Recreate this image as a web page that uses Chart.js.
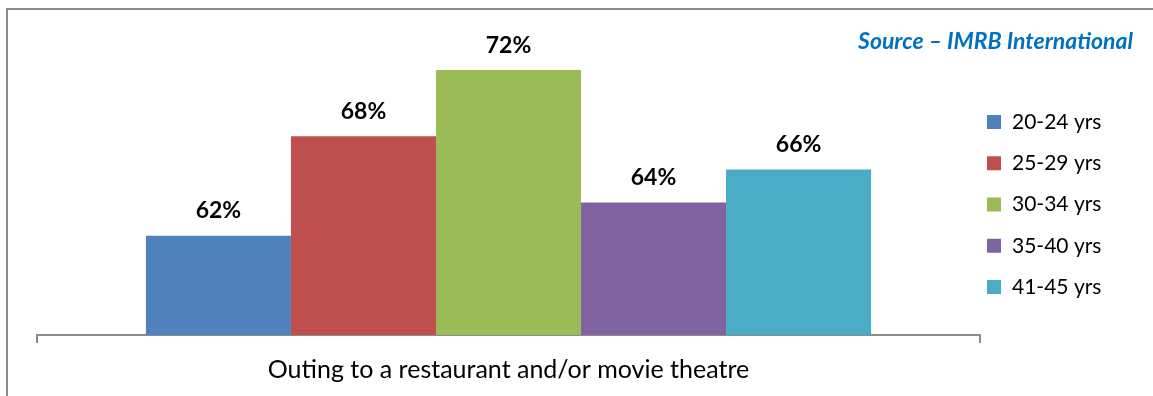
<!DOCTYPE html>
<html>
<head>
<meta charset="utf-8">
<script src="https://cdn.jsdelivr.net/npm/chart.js@4"></script>
<style>
  html, body { margin: 0; padding: 0; background: #fff; }
  #wrap { position: relative; width: 1153px; height: 396px; overflow: hidden; }
  #frame { position: absolute; left: 6px; top: 8px; width: 1200px; height: 450px;
           border-left: 2px solid #8c8c8c; border-top: 2px solid #8c8c8c; }
  canvas { position: absolute; left: 0; top: 0; }
</style>
</head>
<body>
<div id="wrap">
  <div id="frame"></div>
  <canvas id="outingChart" width="1153" height="396"></canvas>
</div>
<script>
// Share of respondents per age group
const categories = ["Outing to a restaurant and/or movie theatre"];
const ageGroups = ["20-24 yrs", "25-29 yrs", "30-34 yrs", "35-40 yrs", "41-45 yrs"];
const percentages = [62, 68, 72, 64, 66];
const barColors = ["#4F81BD", "#C0504D", "#9BBB59", "#8064A2", "#4BACC6"];
const sourceText = "Source \u2013 IMRB International";

const FONT = "Lato, 'Open Sans', sans-serif";

// one dataset per age group so each bar gets its own legend entry
const datasets = ageGroups.map((group, i) => ({
    label: group,
    data: [percentages[i]],
    backgroundColor: barColors[i],
    borderWidth: 0,
    barPercentage: 1,
    categoryPercentage: 0.769,
}));

// Value labels above every bar
const valueLabels = {
    id: 'valueLabels',
    afterDatasetsDraw(chart) {
        const ctx = chart.ctx;
        ctx.save();
        ctx.font = "bold 23px " + FONT;
        ctx.fillStyle = "#000";
        ctx.textAlign = "center";
        ctx.textBaseline = "middle";
        chart.data.datasets.forEach((ds, i) => {
            chart.getDatasetMeta(i).data.forEach((bar, j) => {
                ctx.fillText(ds.data[j] + "%", bar.x, bar.y - 25);
            });
        });
        ctx.restore();
    }
};

// Legend column on the right plus the source note
const sideLegend = {
    id: 'sideLegend',
    afterDraw(chart) {
        const ctx = chart.ctx;
        ctx.save();
        ctx.textBaseline = "middle";
        chart.data.datasets.forEach((ds, i) => {
            const y = 122 + i * 41.25;
            ctx.fillStyle = ds.backgroundColor;
            ctx.fillRect(987, y - 7, 14, 14);
            ctx.fillStyle = "#000";
            ctx.font = "21px " + FONT;
            ctx.textAlign = "left";
            ctx.fillText(ds.label, 1012, y);
        });
        ctx.font = "italic bold 23px " + FONT;
        ctx.fillStyle = "#0070C0";
        ctx.textAlign = "right";
        ctx.fillText(sourceText, 1133, 42);
        ctx.restore();
    }
};

const config = {
    type: 'bar',
    data: {
        labels: categories,
        datasets: datasets,
    },
    options: {
        responsive: false,
        animation: false,
        layout: {
            padding: { left: 37, right: 173, top: 37, bottom: 0 }
        },
        plugins: {
            legend: { display: false },
            tooltip: { enabled: false },
        },
        scales: {
            x: {
                grid: {
                    display: true,
                    offset: true,
                    drawOnChartArea: false,
                    drawTicks: true,
                    tickLength: 8,
                    color: "#8c8c8c",
                    lineWidth: 2,
                },
                border: { display: true, color: "#8c8c8c", width: 2 },
                ticks: {
                    color: "#000",
                    padding: 11.5,
                    font: { family: FONT, size: 25 },
                },
            },
            y: {
                display: false,
                min: 56,
                max: 74,
            },
        },
    },
    plugins: [valueLabels, sideLegend],
};

const ctx = document.getElementById('outingChart').getContext('2d');
const outingChart = new Chart(ctx, config);
</script>
</body>
</html>
